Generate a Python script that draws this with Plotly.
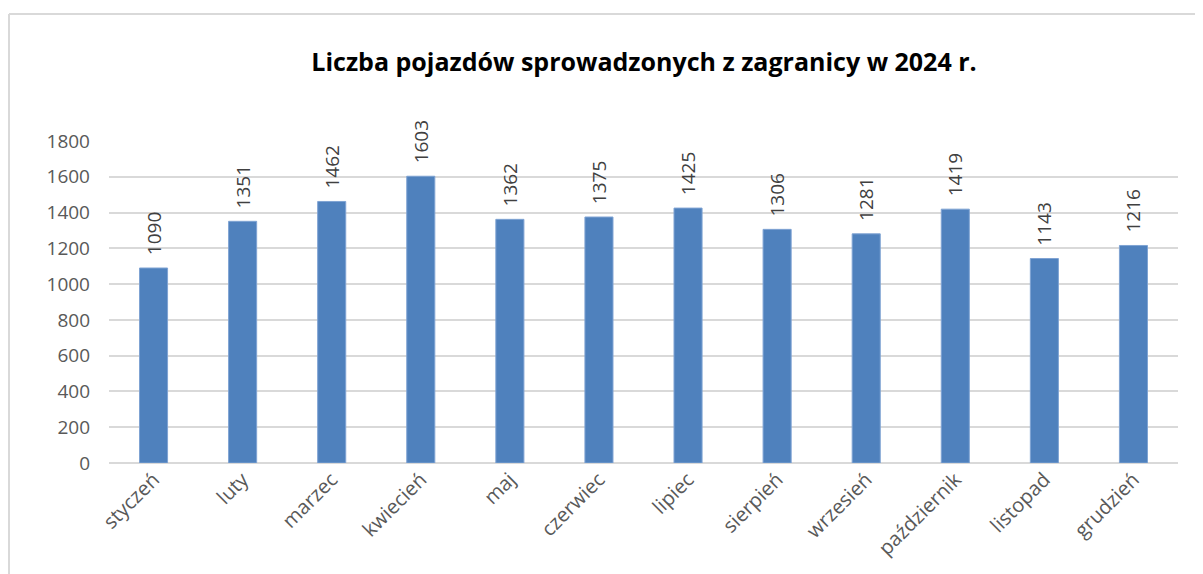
import plotly.graph_objects as go

MONTHS = [
    "styczeń", "luty", "marzec", "kwiecień", "maj", "czerwiec",
    "lipiec", "sierpień", "wrzesień", "październik", "listopad", "grudzień"
]
VEHICLES = [1090, 1351, 1462, 1603, 1362, 1375, 1425, 1306, 1281, 1419, 1143, 1216]
Y_TICKS = [0, 200, 400, 600, 800, 1000, 1200, 1400, 1600, 1800]

TITLE = "Liczba pojazdów sprowadzonych z zagranicy w 2024 r."

# page body adds 8px offset, so the figure is a bit smaller than the window
W, H = 1195, 566
M = dict(l=101, r=25, t=133, b=111)
pw = W - M["l"] - M["r"]
ph = H - M["t"] - M["b"]

fig = go.Figure()

fig.add_trace(go.Bar(
    x=MONTHS,
    y=VEHICLES,
    marker=dict(color="#4F81BD", line=dict(color="#7FA3D3", width=1)),
    # non-breaking spaces keep a small gap between bar top and label
    text=["\u00a0\u00a0" + str(v) for v in VEHICLES],
    textposition="outside",
    textangle=-90,
    constraintext="none",
    textfont=dict(family="Open Sans", size=19, color="#404040"),
    cliponaxis=False,
))

# light frame: only top and left edges show in the reference
frame_top = (H - 6 - M["b"]) / ph
frame_left = (1 - M["l"]) / pw
fig.add_shape(
    type="line", xref="paper", yref="paper",
    x0=frame_left, x1=(W + 5 - M["l"]) / pw,
    y0=frame_top, y1=frame_top,
    line=dict(color="#D9D9D9", width=2),
)
fig.add_shape(
    type="line", xref="paper", yref="paper",
    x0=frame_left, x1=frame_left,
    y0=frame_top, y1=(-5 - M["b"]) / ph,
    line=dict(color="#D9D9D9", width=2),
)

fig.update_layout(
    width=W,
    height=H,
    margin=M,
    paper_bgcolor="white",
    plot_bgcolor="white",
    showlegend=False,
    bargap=0.685,
    title=dict(
        text="<b>" + TITLE + "</b>",
        x=636 / W,
        xanchor="center",
        y=1 - 54 / H,
        yanchor="middle",
        font=dict(family="Open Sans", size=25, color="#000000"),
    ),
    xaxis=dict(
        tickangle=-45,
        tickfont=dict(family="Open Sans", size=20, color="#595959"),
        showgrid=False,
        showline=False,
        ticks="",
    ),
    yaxis=dict(
        range=[0, 1800],
        tickvals=Y_TICKS,
        tickfont=dict(family="Open Sans", size=19, color="#595959"),
        showgrid=True,
        gridcolor="#D9D9D9",
        gridwidth=1.5,
        zeroline=True,
        zerolinecolor="#D9D9D9",
        zerolinewidth=1.5,
        ticks="",
        ticklabelstandoff=18,
    ),
)

fig.write_html("out.html")
